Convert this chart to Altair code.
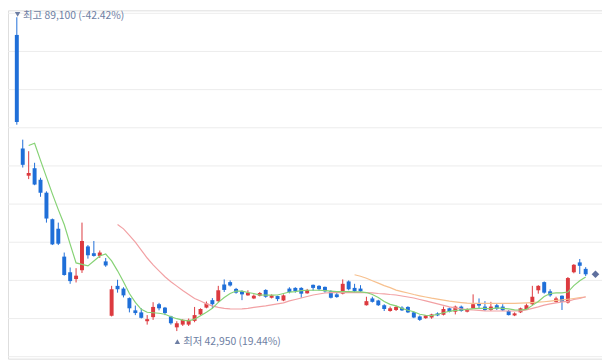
import altair as alt
import pandas as pd

# ---- data ----
opens = [86500, 69800, 65800, 66900, 65200, 63300, 59400, 58000, 53900, 51600,
         50600, 51900, 55400, 54400, 54000, 53200, 45200, 49600, 49200, 47800,
         46000, 45700, 44400, 45000, 46900, 46400, 45100, 43500, 43900, 43900,
         44450, 45400, 46400, 47500, 47350, 49800, 50150, 49150, 48800, 48200,
         47750, 48150, 49000, 47850, 48100, 47450, 49200, 49300, 49300, 48500,
         49750, 49600, 49450, 48800, 48350, 48450, 50250, 49300, 49200, 46750,
         47750, 47450, 46750, 45900, 46050, 46400, 46500, 45700, 45100, 44850,
         44950, 45550, 45350, 46300, 45800, 46550, 45800, 46300, 47000, 46550,
         46050, 46750, 46550, 45900, 45250, 45700, 46200, 46900, 48950, 50150,
         48800, 47250, 48150, 47150, 51600, 53050, 52100]
highs = [89100, 71100, 69400, 67700, 65500, 63500, 59500, 58900, 54500, 52300,
         52200, 58900, 55600, 56200, 54800, 53700, 49600, 50500, 49400, 47900,
         46700, 46300, 45300, 47200, 47100, 46500, 45200, 44400, 44700, 44800,
         46500, 46300, 47300, 47800, 49600, 50550, 50400, 49300, 48950, 48950,
         48350, 48700, 49100, 48350, 48150, 48350, 49400, 49400, 49400, 49150,
         49800, 49700, 49500, 48950, 48700, 50550, 50400, 49900, 49700, 48000,
         48000, 47550, 46900, 46550, 46700, 46600, 46600, 45800, 45250, 45300,
         45500, 45700, 46550, 46400, 46700, 46700, 46300, 48350, 47750, 47350,
         47250, 47000, 46900, 46050, 45700, 46400, 47000, 49600, 49700, 50250,
         49100, 48000, 48200, 50900, 52800, 53550, 52350]
lows = [73300, 67000, 65300, 64400, 62700, 58900, 55600, 55600, 51100, 49900,
        50100, 51500, 53600, 53900, 53700, 52400, 45100, 48600, 47900, 45700,
        45300, 44800, 43900, 44600, 46000, 45300, 43900, 42950, 43700, 43700,
        44250, 45300, 46300, 46300, 47200, 48700, 49500, 48450, 47500, 48150,
        47650, 48050, 47850, 47750, 47350, 47350, 48500, 48600, 47850, 48450,
        48900, 48900, 48600, 47750, 47850, 48350, 48950, 48700, 48600, 46700,
        47150, 46650, 45900, 45800, 45900, 45900, 45600, 44850, 44450, 44750,
        44750, 45150, 45250, 45700, 45400, 45800, 45700, 46200, 46200, 45900,
        45900, 46050, 45900, 45250, 45150, 45600, 46100, 46750, 48450, 48450,
        48000, 47150, 46050, 47000, 51450, 51350, 51050]
closes = [73700, 67400, 66200, 64500, 63300, 59500, 55700, 55800, 51200, 50300,
          51100, 56200, 54100, 54000, 54500, 52600, 49100, 49100, 48200, 46300,
          45600, 44900, 44700, 46500, 46300, 45600, 44100, 44100, 44600, 44600,
          45300, 46200, 47000, 46900, 48950, 49000, 49650, 48600, 48350, 48600,
          48150, 48550, 48000, 48200, 47650, 48200, 48700, 48850, 48450, 49000,
          49300, 49100, 48800, 47850, 47950, 49900, 49100, 48800, 48800, 47350,
          47250, 46750, 46200, 46300, 46500, 46000, 45700, 44950, 44600, 45250,
          45400, 45250, 46200, 45800, 46550, 45900, 46200, 46900, 46700, 46050,
          46550, 46250, 46000, 45300, 45550, 46300, 46750, 48000, 49600, 48600,
          48200, 47750, 47250, 50750, 52700, 52550, 51300]

ma5_start = 2
ma5 = [70240, 70570, 68060, 65594, 63127, 60805, 58629, 55727, 52970, 52752,
       52535, 53260, 53986, 54276, 53260, 51809, 50213, 48472, 47166, 46150,
       45715, 45643, 45570, 45425, 45062, 44772, 44554, 44453, 44699, 45208,
       45715, 46295, 47166, 47892, 48472, 48835, 48835, 48617, 48472, 48254,
       48225, 48225, 48254, 48472, 48690, 48762, 48907, 48951, 48951, 48951,
       48907, 48835, 48762, 48762, 48762, 48719, 48719, 48617, 48327, 47892,
       47311, 46876, 46658, 46295, 46005, 45788, 45425, 45280, 45236, 45425,
       45643, 45860, 46005, 46049, 46150, 46252, 46295, 46295, 46223, 46368,
       46295, 46223, 46078, 46049, 46150, 46731, 47311, 48037, 48472, 48573,
       48573, 48690, 49633, 50358, 50895]

ma20_start = 17
ma20 = [58629, 57976, 57033, 56017, 54856, 53696, 52680, 51809, 50939, 50213,
        49560, 48907, 48327, 47746, 47384, 46948, 46658, 46441, 46295, 46223,
        46194, 46223, 46295, 46441, 46542, 46658, 46803, 46948, 47094, 47384,
        47601, 47819, 48037, 48254, 48400, 48545, 48617, 48617, 48617, 48617,
        48617, 48617, 48617, 48573, 48472, 48429, 48327, 48254, 48110, 47964,
        47819, 47601, 47384, 47166, 46948, 46731, 46513, 46368, 46223, 46107,
        46049, 46005, 45933, 45904, 45904, 45904, 45904, 45904, 45933, 46078,
        46295, 46513, 46774, 46948, 47094, 47238, 47311, 47601, 47746, 47993]

ma60_start = 57
ma60 = [51229, 51011, 50721, 50358, 49996, 49633, 49343, 48980, 48762, 48545,
        48327, 48138, 47964, 47790, 47645, 47500, 47355, 47238, 47137, 47050,
        47021, 47021, 47021, 47021, 47021, 47021, 47021, 47021, 47050, 47094,
        47137, 47195, 47268, 47355, 47456, 47529, 47631, 47746, 47863, 47964]

grid_prices = [89680, 84069, 78458, 72847, 67236, 61625, 56014, 50403, 44792, 39181]

high_label = "최고 89,100 (-42.42%)"
low_label = "최저 42,950 (19.44%)"
current_price = 51300

RED = "#dc3a3f"
BLUE = "#1f6fd8"
MA_COLORS = {"5": "#86d275", "20": "#f2a1a4", "60": "#f7c08e"}
LABEL_COLOR = "#6d7ea3"
FONT = "Noto Sans CJK KR"

# ---- tables ----
n = len(closes)
candles = pd.DataFrame({
    "i": list(range(n)),
    "open": opens, "high": highs, "low": lows, "close": closes,
})
candles["dir"] = ["up" if c >= o else "down" for o, c in zip(opens, closes)]

ma5_df = pd.DataFrame({"i": list(range(ma5_start, ma5_start + len(ma5))), "v": ma5})
ma20_df = pd.DataFrame({"i": list(range(ma20_start, ma20_start + len(ma20))), "v": ma20})
ma60_df = pd.DataFrame({"i": list(range(ma60_start, ma60_start + len(ma60))), "v": ma60})
grid_df = pd.DataFrame({"v": grid_prices})

hi_i = highs.index(max(highs))
lo_i = lows.index(min(lows))
hi_df = pd.DataFrame({"i": [hi_i], "v": [max(highs)], "t": [high_label]})
lo_df = pd.DataFrame({"i": [lo_i], "v": [min(lows)], "t": [low_label]})
cur_df = pd.DataFrame({"i": [n - 1 + 1.65], "v": [current_price]})

xs = alt.Scale(domain=[-0.655, 97.92], nice=False, zero=False)
ys = alt.Scale(domain=[38895, 90116], nice=False, zero=False)

X = alt.X("i:Q", scale=xs, axis=None)

def Yv(field):
    return alt.Y(field, scale=ys, axis=None)

color = alt.Color("dir:N", scale=alt.Scale(domain=["up", "down"], range=[RED, BLUE]), legend=None)

grid = alt.Chart(grid_df).mark_rule(color="#ececec", strokeWidth=1).encode(y=Yv("v:Q"))

base = alt.Chart(candles)
wicks = base.mark_rule(strokeWidth=1).encode(
    x=X, y=Yv("low:Q"), y2="high:Q", color=color)
bodies = base.mark_bar(size=4).encode(
    x=X, y=Yv("open:Q"), y2="close:Q", color=color)

def ma_line(df, key):
    return alt.Chart(df).mark_line(strokeWidth=1.2, color=MA_COLORS[key]).encode(
        x=X, y=Yv("v:Q"))

hi_text = alt.Chart(hi_df).mark_text(align="left", baseline="middle", dx=6.3, dy=-1.5,
                                     fontSize=10.5, font=FONT,
                                     color=LABEL_COLOR).encode(
    x=X, y=Yv("v:Q"), text="t:N")
hi_tri = alt.Chart(hi_df).mark_point(shape="triangle-down", filled=True, size=30,
                                     xOffset=0.8, yOffset=-3, opacity=1,
                                     color=LABEL_COLOR).encode(x=X, y=Yv("v:Q"))
lo_text = alt.Chart(lo_df).mark_text(align="left", baseline="middle", dx=6.4, dy=11,
                                     fontSize=10.5, font=FONT,
                                     color=LABEL_COLOR).encode(
    x=X, y=Yv("v:Q"), text="t:N")
lo_tri = alt.Chart(lo_df).mark_point(shape="triangle-up", filled=True, size=30,
                                     xOffset=0.6, yOffset=10.7, opacity=1,
                                     color=LABEL_COLOR).encode(x=X, y=Yv("v:Q"))
cur = alt.Chart(cur_df).mark_point(shape="diamond", filled=True, size=60,
                                   color="#5e6f9e", opacity=1).encode(
    x=X, y=Yv("v:Q"))

chart = alt.layer(
    grid, wicks, bodies,
    ma_line(ma60_df, "60"), ma_line(ma20_df, "20"), ma_line(ma5_df, "5"),
    hi_text, hi_tri, lo_text, lo_tri, cur,
).properties(
    width=602, height=353,
    padding={"left": 0, "right": 0, "top": 0, "bottom": 0},
    autosize=alt.AutoSizeParams(type="none"),
).configure_view(stroke=None).configure(background="white")

chart.save("out.html", embed_options={"renderer": "svg", "actions": False})
